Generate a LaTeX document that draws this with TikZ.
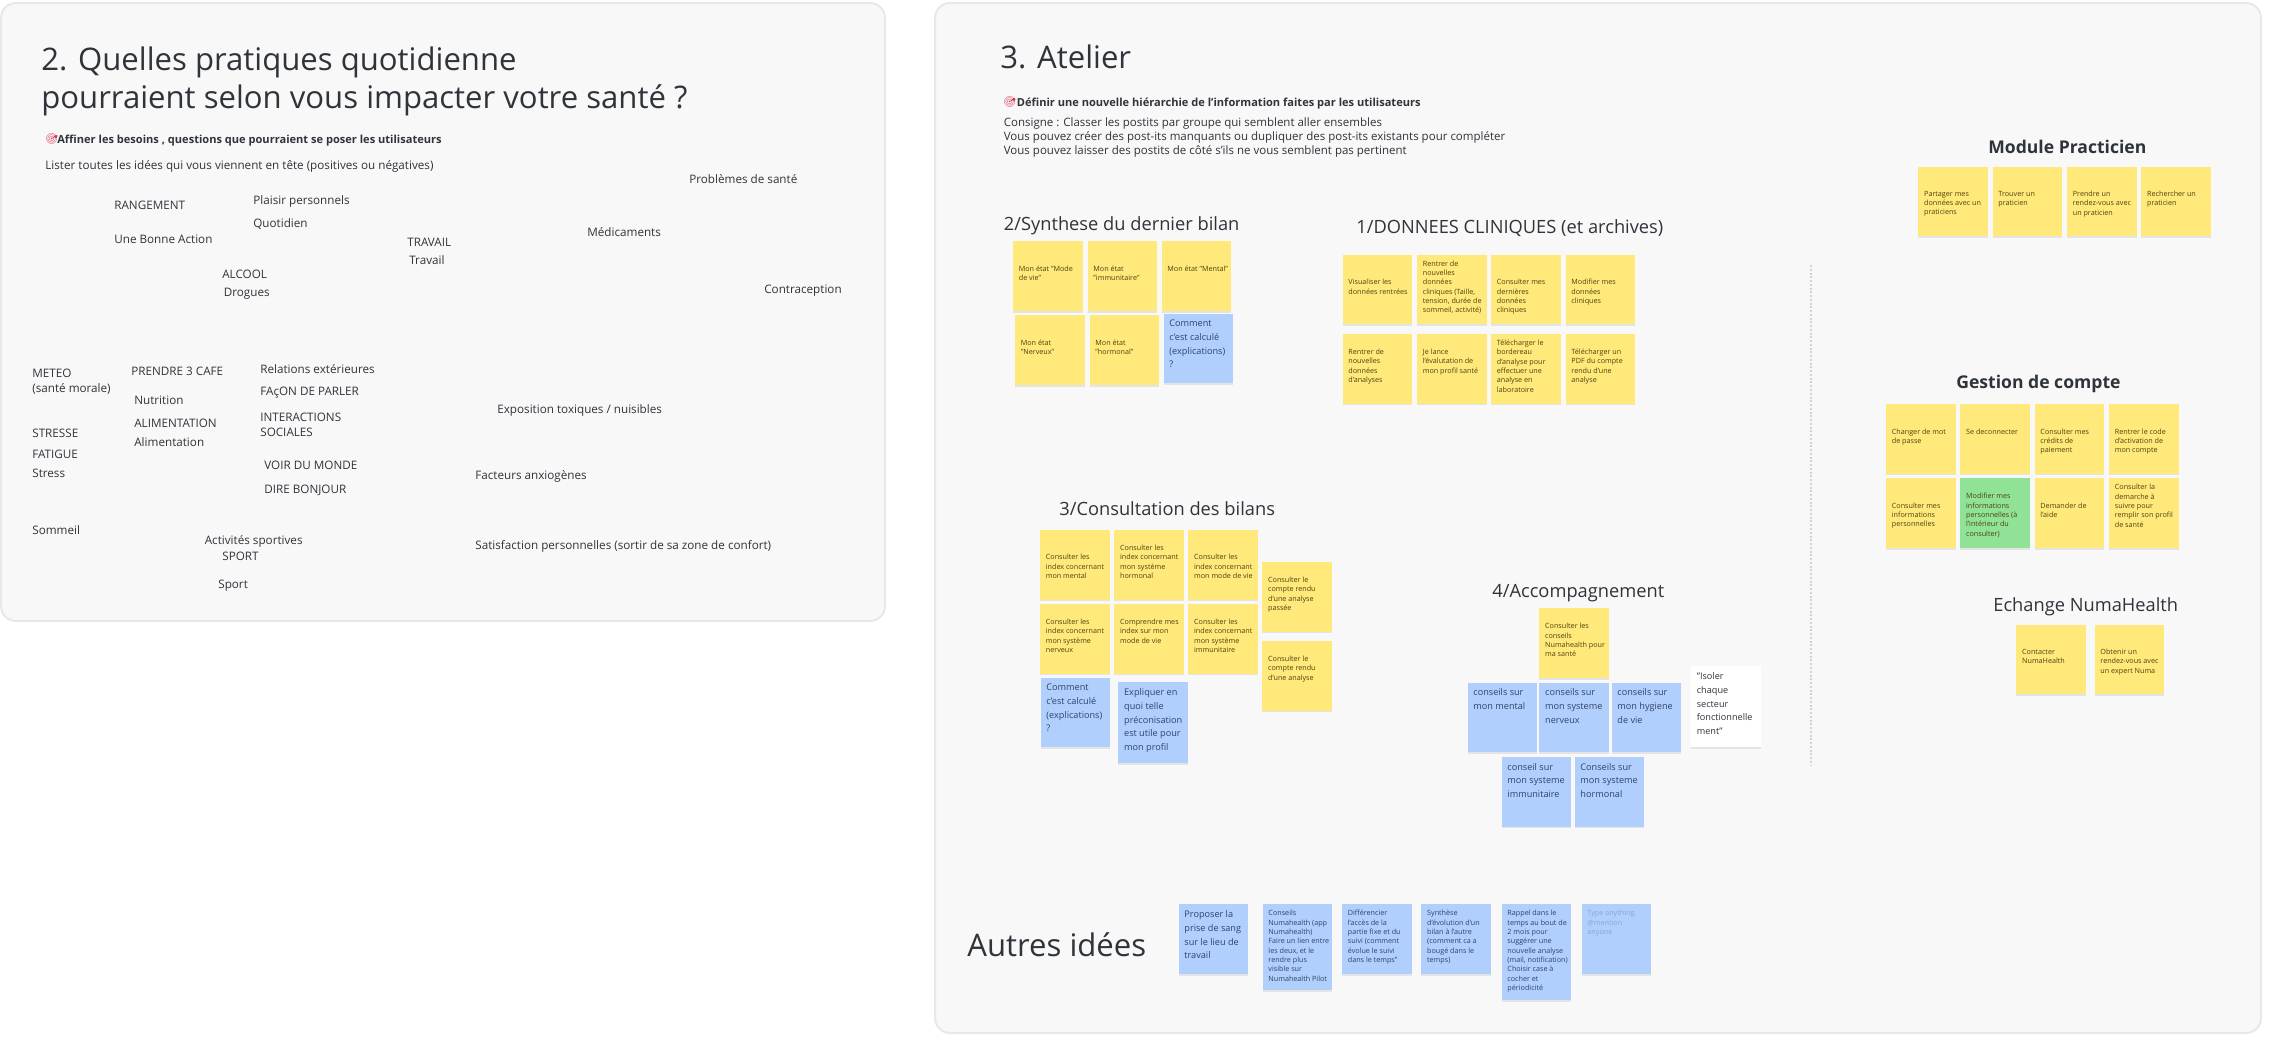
\documentclass[tikz,border=0pt]{standalone}
\usepackage{fontspec}
\setmainfont{Open Sans}
\newfontfamily\emojifont{Noto Emoji}
\usetikzlibrary{shadows}

\definecolor{fondpanneau}{HTML}{F8F8F9}
\definecolor{bordpanneau}{HTML}{E6E8EA}
\definecolor{encre}{HTML}{2F343A}
\definecolor{jaune}{HTML}{FFE97A}
\definecolor{encrejaune}{HTML}{4F4210}
\definecolor{bleu}{HTML}{B1CFFD}
\definecolor{encrebleu}{HTML}{2E4468}
\definecolor{vert}{HTML}{8FE296}
\definecolor{cible}{HTML}{D8314C}

\newlength{\pxu}
\setlength{\pxu}{0.02cm}
\newcommand{\corps}[3][69.6]{\begin{minipage}[c][#1\pxu][t]{69.6\pxu}\raggedright\leftskip=5.8\pxu\vspace*{#2\pxu}#3\end{minipage}}

\tikzset{
    panneau/.style={fill=fondpanneau, draw=bordpanneau, line width=2\pxu, rounded corners=0.3cm},
    grandtitre/.style={anchor=west, inner sep=0, align=left, text=encre, font={\fontsize{17.7}{21.6}\selectfont}},
    soustitre/.style={anchor=west, inner sep=0, yshift=-1\pxu, text=encre, font={\fontsize{10.4}{12}\selectfont}},
    soustitregras/.style={soustitre, font={\fontsize{10}{12}\selectfont\bfseries}},
    mot/.style={anchor=west, inner sep=0, yshift=-1.5\pxu, align=left, text=encre, font={\fontsize{6.65}{8.6}\selectfont}},
    objectif/.style={anchor=west, inner sep=0, yshift=-1.5\pxu, text=encre, font={\fontsize{6.3}{8}\selectfont\bfseries}},
    pastille/.style={anchor=west, inner sep=0, text=cible, font={\fontsize{6}{8}\emojifont}},
    note/.style={anchor=north west, inner sep=0, drop shadow={opacity=0.16, shadow xshift=0pt, shadow yshift=-1pt}},
    ptjaune/.style={note, fill=jaune, text=encrejaune, font={\fontsize{4.1}{5.31}\selectfont}},
    ptvert/.style={ptjaune, fill=vert},
    ptbleu/.style={note, fill=bleu, text=encrebleu, font={\fontsize{5.2}{7.9}\selectfont}},
    ptbleufin/.style={note, fill=bleu, text=encrebleu, font={\fontsize{4.1}{5.31}\selectfont}},
    ptblanc/.style={ptbleu, fill=white, text=encre},
}

\begin{document}
\begin{tikzpicture}[x=0.02cm, y=-0.02cm]
    \useasboundingbox (0,0) rectangle (2290,1059);

    % 1. Panneau de gauche
    \draw[panneau] (1,3) rectangle (885,621);
    \node[grandtitre] (titregauche) at (41,81.5) {2. Quelles pratiques quotidienne\\pourraient selon vous impacter votre santé ?};
    \node[pastille] (ciblegauche) at (45,139) {🎯};
    \node[objectif] (affiner) at (57,139) {Affiner les besoins , questions que pourraient se poser les utilisateurs};
    \node[mot] (lister) at (45,165) {Lister toutes les idées qui vous viennent en tête (positives ou négatives)};

    % 2. Les idees du panneau de gauche
    \node[mot] (problemes) at (689,178) {Problèmes de santé};
    \node[mot] (rangement) at (114,204) {RANGEMENT};
    \node[mot] (plaisir) at (253,200) {Plaisir personnels};
    \node[mot] (quotidien) at (253,223) {Quotidien};
    \node[mot] (bonneaction) at (114,238) {Une Bonne Action};
    \node[mot] (travailA) at (407,241) {TRAVAIL};
    \node[mot] (travailB) at (409,258.5) {Travail};
    \node[mot] (medicaments) at (587,231) {Médicaments};
    \node[mot] (alcool) at (222,273) {ALCOOL};
    \node[mot] (drogues) at (223.5,292) {Drogues};
    \node[mot] (contraception) at (764,289) {Contraception};
    \node[mot] (meteo) at (32,380) {METEO\\(santé morale)};
    \node[mot] (cafe) at (131,369.5) {PRENDRE 3 CAFE};
    \node[mot] (relations) at (260,368) {Relations extérieures};
    \node[mot] (parler) at (260,391) {FAçON DE PARLER};
    \node[mot] (nutrition) at (134,399) {Nutrition};
    \node[mot] (exposition) at (497,409) {Exposition toxiques / nuisibles};
    \node[mot] (interactions) at (260,423.5) {INTERACTIONS\\SOCIALES};
    \node[mot] (alimentationA) at (134,422) {ALIMENTATION};
    \node[mot] (stresseA) at (32,432) {STRESSE};
    \node[mot] (alimentationB) at (134,441) {Alimentation};
    \node[mot] (fatigue) at (32,453) {FATIGUE};
    \node[mot] (monde) at (264,464) {VOIR DU MONDE};
    \node[mot] (stresseB) at (32,472) {Stress};
    \node[mot] (facteurs) at (475,475) {Facteurs anxiogènes};
    \node[mot] (bonjour) at (264,489) {DIRE BONJOUR};
    \node[mot] (sommeil) at (32,529) {Sommeil};
    \node[mot] (activites) at (204.5,540) {Activités sportives};
    \node[mot] (sportA) at (222,555) {SPORT};
    \node[mot] (satisfaction) at (475,545) {Satisfaction personnelles (sortir de sa zone de confort)};
    \node[mot] (sportB) at (218,584) {Sport};

    % 3. Panneau de droite
    \draw[panneau] (935,3) rectangle (2261,1033);
    \node[grandtitre] (titredroite) at (1000,57) {3. Atelier};
    \node[pastille] (cibledroite) at (1003,102) {🎯};
    \node[objectif] (definir) at (1016.5,102) {Définir une nouvelle hiérarchie de l'information faites par les utilisateurs};
    \node[mot, font={\fontsize{6.55}{7.97}\selectfont}] (consigne) at (1003.5,136.5) {Consigne : Classer les postits par groupe qui semblent aller ensembles\\Vous pouvez créer des post-its manquants ou dupliquer des post-its existants pour compléter\\Vous pouvez laisser des postits de côté s'ils ne vous semblent pas pertinent};

    % 4. Synthese du dernier bilan
    \node[soustitre] (synthese) at (1003.6,225) {2/Synthese du dernier bilan};
    \node[ptjaune] (etatvie) at (1012.7,241) {\corps{24.5}{Mon état "Mode\\de vie"}};
    \node[ptjaune] (etatimmun) at (1087.3,241) {\corps{24.5}{Mon état\\"immunitaire"}};
    \node[ptjaune] (etatmental) at (1161.3,241) {\corps{24.5}{Mon état "Mental"}};
    \node[ptjaune] (etatnerv) at (1014.7,315) {\corps{24.5}{Mon état\\"Nerveux"}};
    \node[ptjaune] (etathorm) at (1089.3,315) {\corps{24.5}{Mon état\\"hormonal"}};
    \node[ptbleu] (calculA) at (1163.3,313.3) {\corps{6}{Comment\\c'est calculé\\(explications)\\?}};

    % 5. Donnees cliniques
    \node[soustitre] (cliniques) at (1356,227) {1/DONNEES CLINIQUES (et archives)};
    \node[ptjaune] (visualiser) at (1342.3,254.3) {\corps{24.7}{Visualiser les\\données rentrées}};
    \node[ptjaune] (rentrerA) at (1416.7,254.3) {\corps{6}{Rentrer de\\nouvelles\\données\\cliniques (Taille,\\tension, durée de\\sommeil, activité)}};
    \node[ptjaune] (dernieres) at (1490.7,254.3) {\corps{24.7}{Consulter mes\\dernières\\données\\cliniques}};
    \node[ptjaune] (modifier) at (1565.3,254.3) {\corps{24.7}{Modifier mes\\données\\cliniques}};
    \node[ptjaune] (rentrerB) at (1342.3,333.7) {\corps{15}{Rentrer de\\nouvelles\\données\\d'analyses}};
    \node[ptjaune] (lance) at (1416.7,333.7) {\corps{15}{Je lance\\l'évalutation de\\mon profil santé}};
    \node[ptjaune] (bordereau) at (1490.7,333.7) {\corps{6}{Télécharger le\\bordereau\\d'analyse pour\\effectuer une\\analyse en\\laboratoire}};
    \node[ptjaune] (pdf) at (1565.3,333.7) {\corps{15}{Télécharger un\\PDF du compte\\rendu d'une\\analyse}};

    % 6. Consultation des bilans
    \node[soustitre] (consultation) at (1059,508) {3/Consultation des bilans};
    \node[ptjaune] (indexmental) at (1039.7,529.7) {\corps{24.3}{Consulter les\\index concernant\\mon mental}};
    \node[ptjaune] (indexhorm) at (1114,529.7) {\corps{15}{Consulter les\\index concernant\\mon système\\hormonal}};
    \node[ptjaune] (indexvie) at (1188,529.7) {\corps{24.3}{Consulter les\\index concernant\\mon mode de vie}};
    \node[ptjaune] (indexnerv) at (1039.7,603.7) {\corps{15}{Consulter les\\index concernant\\mon système\\nerveux}};
    \node[ptjaune] (comprendre) at (1114,603.7) {\corps{15}{Comprendre mes\\index sur mon\\mode de vie}};
    \node[ptjaune] (indeximmun) at (1188,603.7) {\corps{15}{Consulter les\\index concernant\\mon système\\immunitaire}};
    \node[ptjaune] (comptepasse) at (1262,561.7) {\corps{15}{Consulter le\\compte rendu\\d'une analyse\\passée}};
    \node[ptjaune] (compte) at (1262,640.7) {\corps{15}{Consulter le\\compte rendu\\d'une analyse}};
    \node[ptbleu] (calculB) at (1040.3,677.3) {\corps{6}{Comment\\c'est calculé\\(explications)\\?}};
    \node[ptbleu] (expliquer) at (1118,682) {\corps[81]{6}{Expliquer en\\quoi telle\\préconisation\\est utile pour\\mon profil}};

    % 7. Accompagnement
    \node[soustitre] (accompagnement) at (1492,592) {4/Accompagnement};
    \node[ptjaune] (conseilsnuma) at (1539,608) {\corps{15}{Consulter les\\conseils\\Numahealth pour\\ma santé}};
    \node[ptbleu] (conseilmental) at (1467.3,682.3) {\corps{6}{conseils sur\\mon mental}};
    \node[ptbleu] (conseilnerv) at (1539,682.3) {\corps{6}{conseils sur\\mon systeme\\nerveux}};
    \node[ptbleu] (conseilhyg) at (1611.3,682.3) {\corps{6}{conseils sur\\mon hygiene\\de vie}};
    \node[ptbleu] (conseilimmun) at (1501.3,756.7) {\corps{6}{conseil sur\\mon systeme\\immunitaire}};
    \node[ptbleu] (conseilhorm) at (1574.3,756.7) {\corps{6}{Conseils sur\\mon systeme\\hormonal}};
    \node[ptblanc] (isoler) at (1690.7,666) {\corps[81]{6}{"Isoler\\chaque\\secteur\\fonctionnelle\\ment"}};

    % 8. Separation verticale
    \coordinate (sephaut) at (1811,265);
    \coordinate (sepbas) at (1811,765);
    \draw[bordpanneau!80!gray, line width=2\pxu, densely dotted] (sephaut) -- (sepbas);

    % 9. Module practicien
    \node[soustitregras] (practicien) at (1988,146) {Module Practicien};
    \node[ptjaune] (partager) at (1918,166.3) {\corps{24.5}{Partager mes\\données avec un\\praticiens}};
    \node[ptjaune] (trouver) at (1992.3,166.3) {\corps{24.5}{Trouver un\\praticien}};
    \node[ptjaune] (prendre) at (2066.7,166.3) {\corps{24.5}{Prendre un\\rendez-vous avec\\un praticien}};
    \node[ptjaune] (rechercher) at (2141,166.3) {\corps{24.5}{Rechercher un\\praticien}};

    % 10. Gestion de compte
    \node[soustitregras] (gestion) at (1956,383) {Gestion de compte};
    \node[ptjaune] (motpasse) at (1885.7,403.7) {\corps{24.5}{Changer de mot\\de passe}};
    \node[ptjaune] (deconnecter) at (1960,403.7) {\corps{24.5}{Se deconnecter}};
    \node[ptjaune] (credits) at (2034.3,403.7) {\corps{24.5}{Consulter mes\\crédits de\\paiement}};
    \node[ptjaune] (activation) at (2108.7,403.7) {\corps{24.5}{Rentrer le code\\d'activation de\\mon compte}};
    \node[ptjaune] (infos) at (1885.7,478) {\corps{24.5}{Consulter mes\\informations\\personnelles}};
    \node[ptvert] (modifinfos) at (1960,478) {\corps{15}{Modifier mes\\informations\\personnelles (à\\l'intérieur du\\consulter)}};
    \node[ptjaune] (aide) at (2034.3,478) {\corps{24.5}{Demander de\\l'aide}};
    \node[ptjaune] (demarche) at (2108.7,478) {\corps{6}{Consulter la\\demarche à\\suivre pour\\remplir son profil\\de santé}};

    % 11. Echange NumaHealth
    \node[soustitre] (echange) at (1993,606) {Echange NumaHealth};
    \node[ptjaune] (contacter) at (2016,624.3) {\corps{24.5}{Contacter\\NumaHealth}};
    \node[ptjaune] (expert) at (2094.3,624.3) {\corps{24.5}{Obtenir un\\rendez-vous avec\\un expert Numa}};

    % 12. Autres idees
    \node[grandtitre] (autres) at (967,945) {Autres idées};
    \node[ptbleu] (prisesang) at (1178.3,904) {\corps{6}{Proposer la\\prise de sang\\sur le lieu de\\travail}};
    \node[ptbleufin] (lien) at (1262.3,904) {\corps[86]{6}{Conseils\\Numahealth (app\\Numahealth)\\Faire un lien entre\\les deux, et le\\rendre plus\\visible sur\\Numahealth Pilot}};
    \node[ptbleufin] (acces) at (1341.7,904) {\corps{6}{Différencier\\l'accès de la\\partie fixe et du\\suivi (comment\\évolue le suivi\\dans le temps"}};
    \node[ptbleufin] (evolution) at (1421,904) {\corps{6}{Synthèse\\d'évolution d'un\\bilan à l'autre\\(comment ca a\\bougé dans le\\temps)}};
    \node[ptbleufin] (rappel) at (1501.3,904) {\corps[96]{6}{Rappel dans le\\temps au bout de\\2 mois pour\\suggérer une\\nouvelle analyse\\(mail, notification)\\Choisir case à\\cocher et\\périodicité}};
    \node[ptbleufin, text=encrebleu!30!bleu] (vide) at (1581.3,904) {\corps{6}{Type anything,\\@mention\\anyone}};
\end{tikzpicture}
\end{document}
